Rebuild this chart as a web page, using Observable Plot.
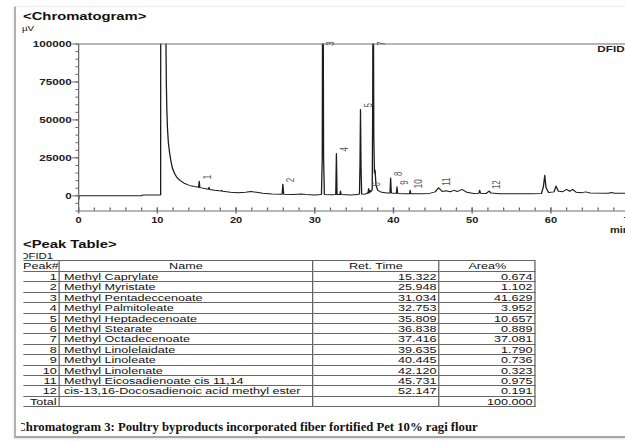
<!DOCTYPE html>
<html>
<head>
<meta charset="utf-8">
<script src="https://cdn.jsdelivr.net/npm/d3@7"></script>
<script src="https://cdn.jsdelivr.net/npm/@observablehq/plot@0.6"></script>
<style>
  html, body { margin: 0; padding: 0; width: 625px; height: 442px; overflow: hidden; background: #fff; }
  body { position: relative; font-family: "Liberation Sans", Arial, sans-serif; color: #111; }
  #sheet { position: absolute; left: 14px; top: 6px; width: 720px; height: 429px;
           border-left: 2px solid #b2b2b2; border-top: 1px solid #ececec; border-bottom: 2px solid #a6a6a6;
           box-shadow: 0 1px 2px rgba(0,0,0,0.12); }
  /* the exported report is laid out narrow and stretched sideways */
  #report { position: absolute; left: 0; top: 0; width: 481px; height: 442px; transform: scaleX(1.3); transform-origin: 0 0; }
  .lbl { position: absolute; white-space: nowrap; line-height: 1; }
  .clip { overflow: hidden; }
  #chart { position: absolute; left: 0; top: 0; }
  #peaktable { position: absolute; left: 17.7px; top: 260px; display: grid;
               grid-template-columns: 28.5px 194.6px 97.7px 73.8px;
               grid-template-rows: 11px repeat(13, 10.4px);
               border-top: 1px solid #666; font-size: 9.7px; color: #111; }
  .cell { box-sizing: border-box; border-bottom: 1px solid #666; border-right: 1px solid #666;
          line-height: 9.4px; white-space: nowrap; overflow: hidden; }
  .hdr { line-height: 9px; }
  .r { text-align: right; padding-right: 1.6px; }
  .l { text-align: left; padding-left: 3px; }
  .c { text-align: center; }
  #caption { position: absolute; left: 20.5px; top: 421.4px; width: 500px; overflow: hidden; white-space: nowrap;
             font-family: "Liberation Serif", "Times New Roman", serif; font-weight: bold; font-size: 12.7px; line-height: 1; color: #111; }
  #caption span { margin-left: -3.8px; }
</style>
</head>
<body>
<div id="sheet"></div>
<div id="report">
  <div class="lbl" style="left:17.7px; top:11px; font-weight:bold; font-size:11.4px;">&lt;Chromatogram&gt;</div>
  <div class="lbl" style="left:16.9px; top:25.4px; font-size:7.5px;">µV</div>
  <div id="chart"></div>
  <div class="lbl" style="left:17.7px; top:238.9px; font-weight:bold; font-size:11.4px;">&lt;Peak Table&gt;</div>
  <div class="lbl clip" style="left:17.7px; top:252.1px; width:40px; font-size:8.7px;"><span style="margin-left:-2px;">DFID1</span></div>
  <div id="peaktable"></div>
</div>
<div id="caption"><span>Chromatogram 3: Poultry byproducts incorporated fiber fortified Pet 10% ragi flour</span></div>

<script>
// Detector trace: [retention time (min), signal (µV)]
const trace = [
  [0, -2500], [0.06, 0], [8.0, 0], [8.1, 500], [10.35, 500], [10.42, 800],
  [10.45, 600000], [11.06, 600000], [11.1, 98000], [11.14, 75000], [11.2, 58000],
  [11.28, 45000], [11.4, 35000], [11.55, 28500], [11.7, 23500], [11.9, 18500],
  [12.2, 14500], [12.5, 12000], [12.9, 10000], [13.4, 8300], [13.9, 7200],
  [14.4, 6400], [14.9, 5900], [15.24, 5600], [15.32, 9600], [15.4, 5400],
  [16.0, 4800], [16.48, 4400], [16.56, 5600], [16.64, 4200], [17.3, 3600],
  [18.1, 3100], [18.2, 3600], [18.3, 3000], [19.3, 2400], [20.3, 2000],
  [21.2, 2300], [21.9, 2800], [22.6, 2300], [23.4, 1700], [24.6, 1200],
  [25.85, 1000], [25.95, 7700], [26.05, 1000], [27.3, 800], [28.3, 1200],
  [28.8, 800], [30.0, 600], [30.85, 800], [30.95, 25000], [31.03, 220000],
  [31.12, 25000], [31.22, 900], [32.2, 700], [32.67, 900], [32.75, 27800],
  [32.83, 900], [33.2, 800], [33.27, 3200], [33.34, 800], [34.6, 600],
  [35.4, 800], [35.68, 1200], [35.75, 22000], [35.81, 56800], [35.88, 18000],
  [35.96, 1200], [36.4, 1100], [36.7, 2000], [36.77, 1600], [36.84, 4800],
  [36.92, 2000], [37.03, 3600], [37.12, 2600], [37.3, 4000], [37.36, 60000],
  [37.42, 195000], [37.5, 40000], [37.58, 15000], [37.66, 17000], [37.78, 7000],
  [38.0, 3600], [38.5, 2300], [39.2, 1900], [39.56, 1900], [39.64, 11800],
  [39.72, 1900], [40.1, 1700], [40.38, 1700], [40.45, 5900], [40.52, 1600],
  [41.5, 1400], [42.05, 1400], [42.12, 3700], [42.19, 1400], [43.5, 1300],
  [44.6, 1600], [45.3, 2600], [45.73, 5300], [46.2, 2800], [46.7, 3300],
  [47.2, 2700], [47.7, 3600], [48.1, 2800], [48.7, 4200], [49.3, 2400],
  [50.2, 1600], [50.85, 1700], [50.95, 3700], [51.05, 1700], [51.8, 1600],
  [52.15, 3100], [52.4, 1800], [53.5, 1400], [55.5, 1300], [57.5, 1300],
  [58.8, 1500], [59.05, 6000], [59.22, 13600], [59.38, 5500], [59.7, 2200],
  [60.4, 2600], [60.65, 6400], [60.95, 3000], [61.5, 2700], [62.0, 4200],
  [62.4, 3000], [62.75, 4200], [63.2, 2400], [64.0, 2100], [64.4, 2600],
  [65.0, 1900], [67.3, 1700], [67.7, 2200], [68.1, 1700], [70, 1600]
];

// Peak table
const peakNo = [1, 2, 3, 4, 5, 6, 7, 8, 9, 10, 11, 12];
const peakName = [
  "Methyl Caprylate", "Methyl Myristate", "Methyl Pentadeccenoate", "Methyl Palmitoleate",
  "Methyl Heptadecenoate", "Methyl Stearate", "Methyl Octadecenoate", "Methyl Linolelaidate",
  "Methyl Linoleate", "Methyl Linolenate", "Methyl Eicosadienoate cis 11,14",
  "cis-13,16-Docosadienoic acid methyl ester"
];
const retTime = [15.322, 25.948, 31.034, 32.753, 35.809, 36.838, 37.416, 39.635, 40.445, 42.120, 45.731, 52.147];
const areaPct = [0.674, 1.102, 41.629, 3.952, 10.657, 0.889, 37.081, 1.790, 0.736, 0.323, 0.975, 0.191];
const areaTotal = 100.000;
// apex heights (µV); peaks 3 and 7 run off the top of the scale
const peakHeight = [9600, 7700, 220000, 27800, 56800, 4800, 195000, 11800, 5900, 3700, 5300, 3100];

// Axis ticks
const xTicks = [0, 10, 20, 30, 40, 50, 60, 70];
const xMinorTicks = [0, 2, 4, 6, 8, 10, 12, 14, 16, 18, 20, 22, 24, 26, 28, 30, 32, 34, 36, 38, 40, 42, 44, 46, 48, 50, 52, 54, 56, 58, 60, 62, 64, 66, 68, 70];
const yTicks = [0, 25000, 50000, 75000, 100000];
const yMinorTicks = [-10000, -5000, 0, 5000, 10000, 15000, 20000, 25000, 30000, 35000, 40000, 45000, 50000, 55000, 60000, 65000, 70000, 75000, 80000, 85000, 90000, 95000, 100000];

const yMax = 100000;
const axisGray = "#666";
const ink = "#222";

const chart = Plot.plot({
  width: 540,
  height: 240,
  marginLeft: 60,
  marginRight: 56.2,
  marginTop: 43.5,
  marginBottom: 29.5,
  x: {domain: [0, 70]},
  y: {domain: [-10000, yMax]},
  style: {fontFamily: "Liberation Sans, Arial, sans-serif", background: "transparent", maxWidth: "none", overflow: "visible"},
  marks: [
    Plot.axisY({ticks: yMinorTicks, tickSize: 2, fill: "none", stroke: axisGray, label: null}),
    Plot.axisY({ticks: yTicks, tickSize: 4.5, tickPadding: 0.8, tickFormat: d3.format("d"),
                fontWeight: "bold", fontSize: 9, fill: ink, stroke: axisGray, label: null}),
    Plot.axisX({ticks: xMinorTicks, tickSize: 3, dy: -3, fill: "none", stroke: axisGray, label: null}),
    Plot.axisX({ticks: xTicks, tickSize: 6, dy: -3, fill: "none", stroke: axisGray, label: null}),
    Plot.axisX({ticks: xTicks, tickSize: 0, tickPadding: 5.5, tickFormat: d3.format("d"),
                fontWeight: "bold", fontSize: 8.5, fill: ink, label: null}),
    Plot.line(trace, {x: d => d[0], y: d => d[1], stroke: "#1c1c1c", strokeWidth: 1, clip: true}),
    Plot.frame({stroke: "#6e6e6e"}),
    Plot.text(peakNo, {
      x: (d, i) => retTime[i],
      y: (d, i) => Math.min(peakHeight[i], yMax * 0.975),
      text: d => String(d),
      rotate: -90, textAnchor: "start", dx: 6.2, dy: -2,
      fontSize: 8, fill: "#555"
    }),
    Plot.text(["DFID1"], {frameAnchor: "top-right", textAnchor: "start", dx: -24.8, dy: 1.5,
                          fontWeight: "bold", fontSize: 9, fill: ink}),
    Plot.text(["min"], {frameAnchor: "bottom-right", textAnchor: "end", lineAnchor: "top", dy: 15.5,
                        fontWeight: "bold", fontSize: 8.5, fill: ink})
  ]
});
document.getElementById("chart").appendChild(chart);

// Peak table grid
const table = document.getElementById("peaktable");
function cell(text, cls) {
  const div = document.createElement("div");
  div.className = "cell " + cls;
  div.textContent = text;
  table.appendChild(div);
}
cell("Peak#", "hdr");
cell("Name", "hdr c");
cell("Ret. Time", "hdr c");
cell("Area%", "hdr c");
peakNo.forEach((n, i) => {
  cell(String(n), "r");
  cell(peakName[i], "l");
  cell(retTime[i].toFixed(3), "r");
  cell(areaPct[i].toFixed(3), "r");
});
cell("Total", "r");
cell("", "l");
cell("", "r");
cell(areaTotal.toFixed(3), "r");
</script>
</body>
</html>
